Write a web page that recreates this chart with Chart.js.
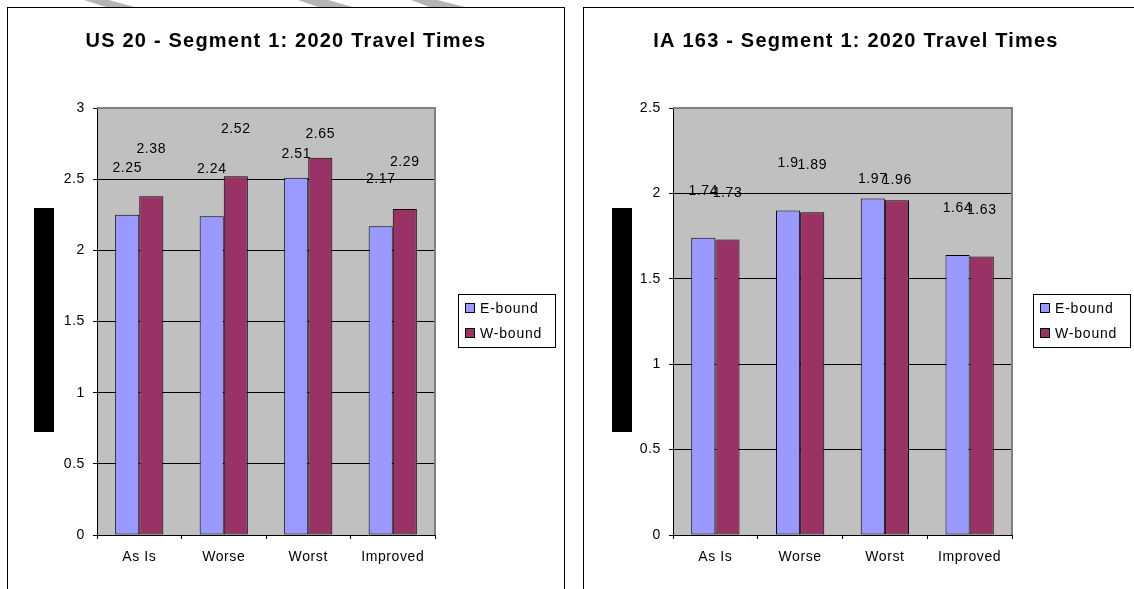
<!DOCTYPE html>
<html>
<head>
<meta charset="utf-8">
<script src="https://cdn.jsdelivr.net/npm/chart.js@4.4.1/dist/chart.umd.min.js"></script>
<style>
  html, body { margin: 0; padding: 0; background: #fff; }
  body { width: 1134px; height: 589px; position: relative; overflow: hidden; }
  .frame { position: absolute; border: 1px solid #000; background: #fff; }
  .blackbar { position: absolute; background: #000; }
  .stripe { position: absolute; top: 0; height: 8px; background: #b4b4b4; }
  canvas { position: absolute; top: 0; }
</style>
</head>
<body>
<div class="stripe" style="left:84px;width:54px;clip-path:polygon(0 0,46% 0,100% 100%,46% 100%)"></div>
<div class="stripe" style="left:298px;width:58px;clip-path:polygon(0 0,52% 0,100% 100%,40% 100%)"></div>
<div class="stripe" style="left:411px;width:58px;clip-path:polygon(0 0,45% 0,100% 100%,36% 100%)"></div>
<div class="frame" style="left:7px;top:7px;width:556px;height:620px"></div>
<div class="frame" style="left:583px;top:7px;width:600px;height:620px"></div>
<div class="blackbar" style="left:34px;top:208px;width:20px;height:224px"></div>
<div class="blackbar" style="left:612px;top:208px;width:20px;height:224px"></div>
<canvas id="chartUS20" style="left:0" width="567" height="589"></canvas>
<canvas id="chartIA163" style="left:567px" width="567" height="589"></canvas>
<script>
// dados
const categories = ['As Is', 'Worse', 'Worst', 'Improved'];
const seriesNames = ['E-bound', 'W-bound'];
const seriesColors = ['#9999FF', '#993366'];

const us20East = [2.25, 2.24, 2.51, 2.17];
const us20West = [2.38, 2.52, 2.65, 2.29];
const us20Max = 3;

const ia163East = [1.74, 1.9, 1.97, 1.64];
const ia163West = [1.73, 1.89, 1.96, 1.63];
const ia163Max = 2.5;

const tickStep = 0.5;
const FONT = '"Liberation Sans", Arial, sans-serif';

// distância (px) entre o topo da barra e o rótulo, por categoria
const us20Lift = [43, 43, 20, 43];
const ia163Lift = [43, 43, 16, 43];

// fundo cinza + borda superior/direita da área do gráfico
const plotBg = {
  id: 'plotBg',
  beforeDraw(chart) {
    chart.ctx.letterSpacing = '0.6px';
    const { ctx, chartArea: a } = chart;
    ctx.save();
    ctx.fillStyle = '#C0C0C0';
    ctx.fillRect(a.left, a.top, a.width, a.height);
    ctx.restore();
  },
  beforeDatasetsDraw(chart) {
    const { ctx, chartArea: a } = chart;
    ctx.save();
    ctx.strokeStyle = '#808080';
    ctx.lineWidth = 2;
    ctx.beginPath();
    ctx.moveTo(a.left, a.top);
    ctx.lineTo(a.right, a.top);
    ctx.lineTo(a.right, a.bottom);
    ctx.stroke();
    ctx.restore();
  }
};

// valores acima das barras, título e legenda
const extras = {
  id: 'extras',
  afterDraw(chart, args, opts) {
    const ctx = chart.ctx;
    ctx.save();
    ctx.fillStyle = '#000';
    ctx.font = '14px ' + FONT;
    ctx.letterSpacing = '0.6px';
    ctx.textAlign = 'center';
    ctx.textBaseline = 'alphabetic';
    chart.data.datasets.forEach((ds, i) => {
      chart.getDatasetMeta(i).data.forEach((bar, j) => {
        ctx.fillText(String(ds.data[j]), bar.x, bar.y - opts.lift[j]);
      });
    });

    // título
    ctx.font = 'bold 20px ' + FONT;
    ctx.letterSpacing = '1.2px';
    ctx.fillText(opts.title, opts.titleX, 47);

    // legenda
    const lx = opts.legendX, ly = 294;
    ctx.strokeStyle = '#000';
    ctx.lineWidth = 1;
    ctx.strokeRect(lx + 0.5, ly + 0.5, 97, 53);
    ctx.font = '14px ' + FONT;
    ctx.letterSpacing = '0.8px';
    ctx.textAlign = 'left';
    chart.data.datasets.forEach((ds, i) => {
      const y = ly + 9 + i * 25;
      ctx.fillStyle = ds.backgroundColor;
      ctx.fillRect(lx + 7.5, y + 0.5, 9, 9);
      ctx.strokeRect(lx + 7.5, y + 0.5, 9, 9);
      ctx.fillStyle = '#000';
      ctx.fillText(ds.label, lx + 22, y + 10);
    });
    ctx.restore();
  }
};

function makeChart(id, east, west, yMax, title, lift, yWidth, padRight, titleX, legendX) {
  const ctx = document.getElementById(id).getContext('2d');
  return new Chart(ctx, {
    type: 'bar',
    data: {
      labels: categories,
      datasets: [
        { label: seriesNames[0], data: east, backgroundColor: seriesColors[0] },
        { label: seriesNames[1], data: west, backgroundColor: seriesColors[1] }
      ].map(d => Object.assign(d, {
        borderColor: '#000',
        borderWidth: 1,
        borderSkipped: false,
        barPercentage: 1,
        categoryPercentage: 0.57
      }))
    },
    options: {
      responsive: false,
      animation: false,
      layout: { padding: { left: 0, right: padRight, top: 108, bottom: 14 } },
      plugins: {
        legend: { display: false },
        title: { display: false },
        tooltip: { enabled: false },
        extras: { title: title, titleX: titleX, legendX: legendX, lift: lift }
      },
      scales: {
        x: {
          grid: {
            offset: true,
            drawOnChartArea: false,
            color: '#000',
            tickColor: '#000',
            tickLength: 4
          },
          border: { color: '#000', width: 1 },
          ticks: { color: '#000', font: { family: FONT, size: 14 }, padding: 10 },
          afterFit(scale) { scale.height = 40; }
        },
        y: {
          min: 0,
          max: yMax,
          grid: {
            color: c => (c.tick && c.tick.value === yMax) ? '#808080' : '#000',
            tickColor: '#000',
            tickLength: 4
          },
          border: { color: '#000', width: 1 },
          ticks: {
            stepSize: tickStep,
            color: '#000',
            padding: 8,
            font: { family: FONT, size: 14 },
            callback: v => String(v)
          },
          afterFit(scale) { scale.width = yWidth; }
        }
      }
    },
    plugins: [plotBg, extras]
  });
}

makeChart('chartUS20', us20East, us20West, us20Max,
  'US 20 - Segment 1: 2020 Travel Times', us20Lift, 97, 132, 286, 458);
makeChart('chartIA163', ia163East, ia163West, ia163Max,
  'IA 163 - Segment 1: 2020 Travel Times', ia163Lift, 106, 122, 289, 466);
</script>
</body>
</html>
